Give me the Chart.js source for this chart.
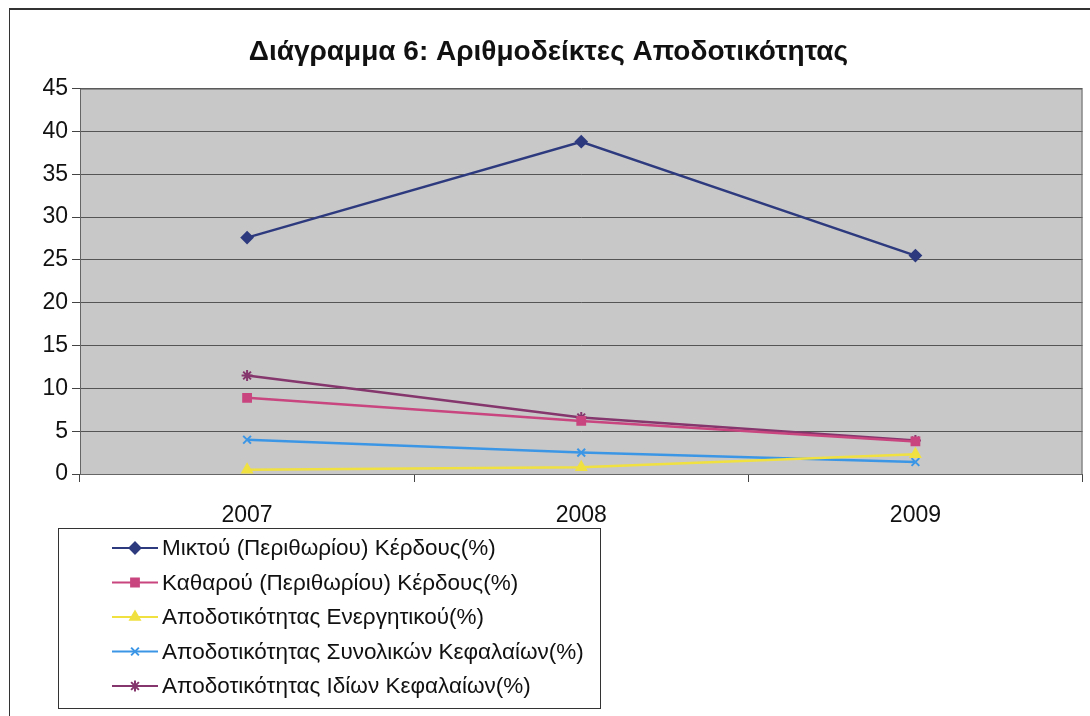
<!DOCTYPE html>
<html>
<head>
<meta charset="utf-8">
<script src="https://cdn.jsdelivr.net/npm/chart.js@4.4.1/dist/chart.umd.min.js"></script>
<style>
  html, body { margin: 0; padding: 0; background: #fff; }
  #frame {
    position: absolute; left: 9px; top: 8px;
    width: 1081px; height: 708px;
    border-left: 1px solid #333; border-top: 2px solid #333;
  }
  #chart { display: block; }
</style>
</head>
<body>
<div id="frame"><canvas id="chart" width="1080" height="706"></canvas></div>
<script>
// ── Data ──────────────────────────────────────────────────────────────────────
const years        = ['2007', '2008', '2009'];
const grossMargin  = [27.6, 38.8, 25.5];
const netMargin    = [8.9, 6.2, 3.8];
const returnAssets = [0.5, 0.8, 2.3];
const returnTotal  = [4.0, 2.5, 1.4];
const returnEquity = [11.5, 6.6, 3.9];

const seriesLabels = [
  'Μικτού (Περιθωρίου) Κέρδους(%)',
  'Καθαρού (Περιθωρίου) Κέρδους(%)',
  'Αποδοτικότητας Ενεργητικού(%)',
  'Αποδοτικότητας Συνολικών Κεφαλαίων(%)',
  'Αποδοτικότητας Ιδίων Κεφαλαίων(%)',
];
const seriesColors = ['#2e3a7e', '#c8457f', '#f0e040', '#3c96e6', '#85366c'];
const seriesPoints = ['rectRot', 'rect', 'triangle', 'crossRot', 'star'];
const seriesValues = [grossMargin, netMargin, returnAssets, returnTotal, returnEquity];

const FONT = 'Liberation Sans, Arial, sans-serif';

// ── Plugins ───────────────────────────────────────────────────────────────────
const plotBackground = {
  id: 'plotBackground',
  beforeDraw(chart) {
    const { ctx, chartArea: a } = chart;
    ctx.save();
    ctx.fillStyle = '#c8c8c8';
    ctx.fillRect(a.left, a.top, a.right - a.left, a.bottom - a.top);
    ctx.restore();
  },
  beforeDatasetsDraw(chart) {
    const { ctx, chartArea: a } = chart;
    ctx.save();
    ctx.strokeStyle = '#666';
    ctx.lineWidth = 1;
    ctx.strokeRect(a.left + 0.5, a.top + 0.5, a.right - a.left - 1, a.bottom - a.top);
    ctx.restore();
  }
};

const boxLegend = {
  id: 'boxLegend',
  afterDraw(chart) {
    const ctx = chart.ctx;
    const x0 = 48, y0 = 518, w = 542, h = 180;
    ctx.save();
    ctx.strokeStyle = '#333';
    ctx.lineWidth = 1;
    ctx.strokeRect(x0 + 0.5, y0 + 0.5, w, h);
    ctx.font = `22.5px ${FONT}`;
    ctx.textBaseline = 'middle';
    chart.data.datasets.forEach((ds, i) => {
      const y = y0 + 20 + i * 34.5;
      ctx.strokeStyle = ds.borderColor;
      ctx.lineWidth = 2;
      ctx.beginPath();
      ctx.moveTo(102, y);
      ctx.lineTo(148, y);
      ctx.stroke();
      ctx.fillStyle = ds.borderColor;
      ctx.strokeStyle = ds.borderColor;
      Chart.helpers.drawPoint(ctx, {
        pointStyle: ds.pointStyle, radius: 5.5, rotation: 0, borderWidth: 2
      }, 125, y);
      ctx.fillStyle = '#111';
      ctx.fillText(ds.label, 152, y + 1);
    });
    ctx.restore();
  }
};

// ── Chart ─────────────────────────────────────────────────────────────────────
new Chart(document.getElementById('chart'), {
  type: 'line',
  data: {
    labels: years,
    datasets: seriesLabels.map((label, i) => ({
      label,
      data: seriesValues[i],
      borderColor: seriesColors[i],
      backgroundColor: seriesColors[i],
      pointStyle: seriesPoints[i],
      pointRadius: 5.5,
      pointBorderWidth: 2,
      borderWidth: 2.5,
      tension: 0,
    }))
  },
  options: {
    responsive: false,
    animation: false,
    layout: { padding: { left: 2, right: 5, top: 0, bottom: 182 } },
    plugins: {
      legend: { display: false },
      tooltip: { enabled: false },
      title: {
        display: true,
        text: 'Διάγραμμα 6: Αριθμοδείκτες Αποδοτικότητας',
        color: '#111',
        font: { family: FONT, size: 28, weight: 'bold' },
        padding: { top: 25, bottom: 20 }
      }
    },
    scales: {
      x: {
        offset: true,
        grid: { offset: true, drawOnChartArea: false, color: '#444', tickLength: 8, tickColor: '#444' },
        border: { color: '#444', width: 1 },
        ticks: { color: '#111', padding: 20, font: { family: FONT, size: 23 } },
        afterFit(scale) { scale.height = 60; }
      },
      y: {
        min: 0, max: 45,
        ticks: { stepSize: 5, color: '#111', padding: 4, font: { family: FONT, size: 23 } },
        grid: { color: '#555', tickLength: 8, tickColor: '#444' },
        border: { color: '#444', width: 1 },
        afterFit(scale) { scale.width = 68; }
      }
    }
  },
  plugins: [plotBackground, boxLegend]
});
</script>
</body>
</html>
